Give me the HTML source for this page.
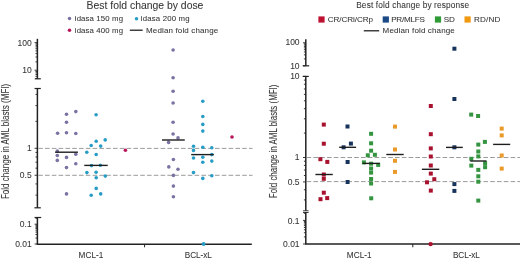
<!DOCTYPE html>
<html><head><meta charset="utf-8"><style>
html,body{margin:0;padding:0;background:#fff;width:520px;height:260px;overflow:hidden}
svg{display:block;will-change:transform}
text{font-family:"Liberation Sans",sans-serif;stroke:#333;stroke-width:0.06px;paint-order:stroke}
</style></head><body>
<svg width="520" height="260" viewBox="0 0 520 260">
<rect width="520" height="260" fill="#fff"/>
<text x="86.6" y="8.7" font-size="10.4" text-anchor="start" fill="#333" textLength="116.8" lengthAdjust="spacing" >Best fold change by dose</text>
<circle cx="69.5" cy="18.4" r="1.75" fill="#7873a2"/>
<text x="74.8" y="21.2" font-size="7.8" text-anchor="start" fill="#333" textLength="48.2" lengthAdjust="spacing" >idasa 150 mg</text>
<circle cx="69.5" cy="30.2" r="1.75" fill="#b8155a"/>
<text x="74.8" y="32.7" font-size="7.8" text-anchor="start" fill="#333" textLength="48.2" lengthAdjust="spacing" >idasa 400 mg</text>
<circle cx="136.5" cy="18.7" r="1.75" fill="#279dc6"/>
<text x="140.8" y="21.2" font-size="7.8" text-anchor="start" fill="#333" textLength="48.8" lengthAdjust="spacing" >idasa 200 mg</text>
<line x1="129.8" y1="30.2" x2="142.7" y2="30.2" stroke="#111" stroke-width="1.2" />
<text x="146" y="32.7" font-size="8.0" text-anchor="start" fill="#333" textLength="72.2" lengthAdjust="spacing" >Median fold change</text>
<text x="0" y="0" font-size="10.6" fill="#333" text-anchor="middle" textLength="115.3" lengthAdjust="spacingAndGlyphs" transform="translate(9.4,141.4) rotate(-90)">Fold change in AML blasts (MFI)</text>
<line x1="37.4" y1="38.8" x2="37.4" y2="78.8" stroke="#222" stroke-width="1.5" />
<line x1="34.8" y1="78.8" x2="40.8" y2="78.8" stroke="#222" stroke-width="1.2" />
<line x1="37.4" y1="88.5" x2="37.4" y2="207.8" stroke="#222" stroke-width="1.5" />
<line x1="34.6" y1="88.5" x2="40.8" y2="88.5" stroke="#222" stroke-width="1.2" />
<line x1="34.4" y1="207.8" x2="40.8" y2="207.8" stroke="#222" stroke-width="1.2" />
<line x1="37.4" y1="217.5" x2="37.4" y2="244.2" stroke="#222" stroke-width="1.5" />
<line x1="34.6" y1="217.5" x2="41.2" y2="217.5" stroke="#222" stroke-width="1.2" />
<line x1="36.65" y1="244.2" x2="251.8" y2="244.2" stroke="#222" stroke-width="1.5" />
<line x1="144.6" y1="244.2" x2="144.6" y2="247.3" stroke="#222" stroke-width="1" />
<line x1="34.6" y1="42.6" x2="37.4" y2="42.6" stroke="#222" stroke-width="0.9" />
<line x1="35.5" y1="43.86" x2="37.4" y2="43.86" stroke="#222" stroke-width="0.9" />
<line x1="35.5" y1="45.27" x2="37.4" y2="45.27" stroke="#222" stroke-width="0.9" />
<line x1="35.5" y1="46.88" x2="37.4" y2="46.88" stroke="#222" stroke-width="0.9" />
<line x1="35.5" y1="48.72" x2="37.4" y2="48.72" stroke="#222" stroke-width="0.9" />
<line x1="35.5" y1="50.91" x2="37.4" y2="50.91" stroke="#222" stroke-width="0.9" />
<line x1="35.5" y1="53.58" x2="37.4" y2="53.58" stroke="#222" stroke-width="0.9" />
<line x1="35.5" y1="57.03" x2="37.4" y2="57.03" stroke="#222" stroke-width="0.9" />
<line x1="35.5" y1="61.89" x2="37.4" y2="61.89" stroke="#222" stroke-width="0.9" />
<line x1="34.6" y1="70.2" x2="37.4" y2="70.2" stroke="#222" stroke-width="0.9" />
<line x1="35.5" y1="71.46" x2="37.4" y2="71.46" stroke="#222" stroke-width="0.9" />
<line x1="35.5" y1="72.87" x2="37.4" y2="72.87" stroke="#222" stroke-width="0.9" />
<line x1="35.5" y1="74.48" x2="37.4" y2="74.48" stroke="#222" stroke-width="0.9" />
<line x1="35.5" y1="76.32" x2="37.4" y2="76.32" stroke="#222" stroke-width="0.9" />
<line x1="35.5" y1="78.51" x2="37.4" y2="78.51" stroke="#222" stroke-width="0.9" />
<line x1="35.5" y1="94.42" x2="37.4" y2="94.42" stroke="#222" stroke-width="0.9" />
<line x1="35.5" y1="105.6" x2="37.4" y2="105.6" stroke="#222" stroke-width="0.9" />
<line x1="35.5" y1="121.36" x2="37.4" y2="121.36" stroke="#222" stroke-width="0.9" />
<line x1="34.6" y1="148.3" x2="37.4" y2="148.3" stroke="#222" stroke-width="0.9" />
<line x1="35.5" y1="152.4" x2="37.4" y2="152.4" stroke="#222" stroke-width="0.9" />
<line x1="35.5" y1="156.97" x2="37.4" y2="156.97" stroke="#222" stroke-width="0.9" />
<line x1="35.5" y1="162.16" x2="37.4" y2="162.16" stroke="#222" stroke-width="0.9" />
<line x1="35.5" y1="168.16" x2="37.4" y2="168.16" stroke="#222" stroke-width="0.9" />
<line x1="34.6" y1="175.24" x2="37.4" y2="175.24" stroke="#222" stroke-width="0.9" />
<line x1="35.5" y1="183.92" x2="37.4" y2="183.92" stroke="#222" stroke-width="0.9" />
<line x1="35.5" y1="195.1" x2="37.4" y2="195.1" stroke="#222" stroke-width="0.9" />
<line x1="35.5" y1="218.24" x2="37.4" y2="218.24" stroke="#222" stroke-width="0.9" />
<line x1="34.6" y1="224.2" x2="37.4" y2="224.2" stroke="#222" stroke-width="0.9" />
<line x1="35.5" y1="225.11" x2="37.4" y2="225.11" stroke="#222" stroke-width="0.9" />
<line x1="35.5" y1="226.12" x2="37.4" y2="226.12" stroke="#222" stroke-width="0.9" />
<line x1="35.5" y1="227.27" x2="37.4" y2="227.27" stroke="#222" stroke-width="0.9" />
<line x1="35.5" y1="228.59" x2="37.4" y2="228.59" stroke="#222" stroke-width="0.9" />
<line x1="35.5" y1="230.16" x2="37.4" y2="230.16" stroke="#222" stroke-width="0.9" />
<line x1="35.5" y1="232.08" x2="37.4" y2="232.08" stroke="#222" stroke-width="0.9" />
<line x1="35.5" y1="234.55" x2="37.4" y2="234.55" stroke="#222" stroke-width="0.9" />
<line x1="35.5" y1="238.04" x2="37.4" y2="238.04" stroke="#222" stroke-width="0.9" />
<line x1="34.6" y1="244.0" x2="37.4" y2="244.0" stroke="#222" stroke-width="0.9" />
<text x="31.7" y="45.6" font-size="8.5" text-anchor="end" fill="#333" >100</text>
<text x="31.7" y="72.9" font-size="8.5" text-anchor="end" fill="#333" >10</text>
<text x="31.7" y="151.3" font-size="8.5" text-anchor="end" fill="#333" >1</text>
<text x="31.7" y="178.2" font-size="8.5" text-anchor="end" fill="#333" >0.5</text>
<text x="31.7" y="227.2" font-size="8.5" text-anchor="end" fill="#333" >0.1</text>
<text x="31.7" y="247.0" font-size="8.5" text-anchor="end" fill="#333" >0.01</text>
<line x1="38.199999999999996" y1="148.4" x2="252.5" y2="148.4" stroke="#969696" stroke-width="0.95" stroke-dasharray="4.6 2.2"/>
<line x1="38.199999999999996" y1="175.3" x2="252.5" y2="175.3" stroke="#969696" stroke-width="0.95" stroke-dasharray="4.6 2.2"/>
<text x="91" y="257.8" font-size="8.2" text-anchor="middle" fill="#333" textLength="24.8" lengthAdjust="spacing" >MCL-1</text>
<text x="198.3" y="257.8" font-size="8.2" text-anchor="middle" fill="#333" textLength="27" lengthAdjust="spacing" >BCL-xL</text>
<circle cx="66.5" cy="114.2" r="1.8" fill="#7873a2"/>
<circle cx="75.8" cy="111.6" r="1.8" fill="#7873a2"/>
<circle cx="66.5" cy="122.2" r="1.8" fill="#7873a2"/>
<circle cx="57.6" cy="133.2" r="1.8" fill="#7873a2"/>
<circle cx="66.5" cy="132.8" r="1.8" fill="#7873a2"/>
<circle cx="75.8" cy="133.5" r="1.8" fill="#7873a2"/>
<circle cx="57.3" cy="151.1" r="1.8" fill="#7873a2"/>
<circle cx="57.3" cy="155.5" r="1.8" fill="#7873a2"/>
<circle cx="57.3" cy="160.4" r="1.8" fill="#7873a2"/>
<circle cx="66.5" cy="157.4" r="1.8" fill="#7873a2"/>
<circle cx="75.8" cy="154.2" r="1.8" fill="#7873a2"/>
<circle cx="75.8" cy="163.8" r="1.8" fill="#7873a2"/>
<circle cx="66.5" cy="167.6" r="1.8" fill="#7873a2"/>
<circle cx="66.5" cy="193.9" r="1.8" fill="#7873a2"/>
<circle cx="173.1" cy="50" r="1.8" fill="#7873a2"/>
<circle cx="173.1" cy="77.8" r="1.8" fill="#7873a2"/>
<circle cx="173.1" cy="91.2" r="1.8" fill="#7873a2"/>
<circle cx="173.1" cy="103" r="1.8" fill="#7873a2"/>
<circle cx="173.1" cy="122.3" r="1.8" fill="#7873a2"/>
<circle cx="173.1" cy="134" r="1.8" fill="#7873a2"/>
<circle cx="178" cy="137.9" r="1.8" fill="#7873a2"/>
<circle cx="168.6" cy="142.4" r="1.8" fill="#7873a2"/>
<circle cx="173.4" cy="159.5" r="1.8" fill="#7873a2"/>
<circle cx="168.8" cy="166.9" r="1.8" fill="#7873a2"/>
<circle cx="178" cy="169.2" r="1.8" fill="#7873a2"/>
<circle cx="173.4" cy="175.4" r="1.8" fill="#7873a2"/>
<circle cx="173.4" cy="186.1" r="1.8" fill="#7873a2"/>
<circle cx="173.4" cy="196.8" r="1.8" fill="#7873a2"/>
<circle cx="96.1" cy="114.7" r="1.8" fill="#279dc6"/>
<circle cx="96.2" cy="141.2" r="1.8" fill="#279dc6"/>
<circle cx="105.2" cy="139.9" r="1.8" fill="#279dc6"/>
<circle cx="91.2" cy="145.5" r="1.8" fill="#279dc6"/>
<circle cx="100.7" cy="146.1" r="1.8" fill="#279dc6"/>
<circle cx="86.8" cy="152.2" r="1.8" fill="#279dc6"/>
<circle cx="96.2" cy="154.5" r="1.8" fill="#279dc6"/>
<circle cx="91.5" cy="165.6" r="1.8" fill="#279dc6"/>
<circle cx="100.4" cy="165.2" r="1.8" fill="#279dc6"/>
<circle cx="86.9" cy="172.6" r="1.8" fill="#279dc6"/>
<circle cx="96.1" cy="172.2" r="1.8" fill="#279dc6"/>
<circle cx="96.2" cy="177.8" r="1.8" fill="#279dc6"/>
<circle cx="105.3" cy="176.1" r="1.8" fill="#279dc6"/>
<circle cx="96.2" cy="188.4" r="1.8" fill="#279dc6"/>
<circle cx="91.2" cy="195.3" r="1.8" fill="#279dc6"/>
<circle cx="100.7" cy="193.9" r="1.8" fill="#279dc6"/>
<circle cx="202.8" cy="101.2" r="1.8" fill="#279dc6"/>
<circle cx="202.8" cy="116.5" r="1.8" fill="#279dc6"/>
<circle cx="202.8" cy="124.4" r="1.8" fill="#279dc6"/>
<circle cx="202.8" cy="131.1" r="1.8" fill="#279dc6"/>
<circle cx="193.5" cy="146.2" r="1.8" fill="#279dc6"/>
<circle cx="193.5" cy="150.4" r="1.8" fill="#279dc6"/>
<circle cx="202.8" cy="147.3" r="1.8" fill="#279dc6"/>
<circle cx="211.8" cy="147.7" r="1.8" fill="#279dc6"/>
<circle cx="211.8" cy="154.6" r="1.8" fill="#279dc6"/>
<circle cx="193.5" cy="158" r="1.8" fill="#279dc6"/>
<circle cx="202.8" cy="157.3" r="1.8" fill="#279dc6"/>
<circle cx="202.8" cy="162.3" r="1.8" fill="#279dc6"/>
<circle cx="211.8" cy="161.1" r="1.8" fill="#279dc6"/>
<circle cx="193.5" cy="172.6" r="1.8" fill="#279dc6"/>
<circle cx="211.8" cy="175.8" r="1.8" fill="#279dc6"/>
<circle cx="202.8" cy="178.4" r="1.8" fill="#279dc6"/>
<circle cx="125.4" cy="150.3" r="1.8" fill="#b8155a"/>
<circle cx="232" cy="137" r="1.8" fill="#b8155a"/>
<circle cx="203.6" cy="244.1" r="2.0" fill="#279dc6"/>
<line x1="55.1" y1="152.2" x2="77.9" y2="152.2" stroke="#1e1e1e" stroke-width="1.4" />
<line x1="84.3" y1="165.4" x2="107.7" y2="165.4" stroke="#1e1e1e" stroke-width="1.4" />
<line x1="162" y1="140" x2="184.8" y2="140" stroke="#1e1e1e" stroke-width="1.4" />
<line x1="191.2" y1="154.6" x2="213.8" y2="154.6" stroke="#1e1e1e" stroke-width="1.4" />
<text x="356.2" y="7.7" font-size="8.3" text-anchor="start" fill="#333" textLength="113" lengthAdjust="spacing" >Best fold change by response</text>
<rect x="318.40" y="16.40" width="6.2" height="6.2" fill="#be1131"/>
<text x="327.8" y="21.6" font-size="8.1" text-anchor="start" fill="#333" textLength="45.2" lengthAdjust="spacing" >CR/CRi/CRp</text>
<rect x="382.70" y="16.40" width="6.2" height="6.2" fill="#1c4a86"/>
<text x="391.2" y="21.6" font-size="8.1" text-anchor="start" fill="#333" textLength="33.7" lengthAdjust="spacing" >PR/MLFS</text>
<rect x="434.90" y="16.40" width="6.2" height="6.2" fill="#2e9b37"/>
<text x="443.7" y="21.6" font-size="8.1" text-anchor="start" fill="#333" textLength="11.2" lengthAdjust="spacing" >SD</text>
<rect x="464.50" y="16.40" width="6.2" height="6.2" fill="#f0980f"/>
<text x="474.0" y="21.6" font-size="8.1" text-anchor="start" fill="#333" textLength="26.4" lengthAdjust="spacing" >RD/ND</text>
<line x1="363.8" y1="30.8" x2="379.2" y2="30.8" stroke="#111" stroke-width="1.2" />
<text x="382.6" y="33.4" font-size="8.0" text-anchor="start" fill="#333" textLength="72.2" lengthAdjust="spacing" >Median fold change</text>
<text x="0" y="0" font-size="10.6" fill="#333" text-anchor="middle" textLength="113.6" lengthAdjust="spacingAndGlyphs" transform="translate(276.8,141.4) rotate(-90)">Fold change in AML blasts (MFI)</text>
<line x1="305.8" y1="39.3" x2="305.8" y2="65.8" stroke="#222" stroke-width="1.5" />
<line x1="302.7" y1="65.8" x2="309.2" y2="65.8" stroke="#222" stroke-width="1.2" />
<line x1="305.8" y1="76.4" x2="305.8" y2="210.8" stroke="#222" stroke-width="1.5" />
<line x1="302.7" y1="76.4" x2="308.8" y2="76.4" stroke="#222" stroke-width="1.2" />
<line x1="303.0" y1="210.8" x2="308.6" y2="210.8" stroke="#222" stroke-width="0.9" />
<line x1="305.8" y1="212.5" x2="305.8" y2="244.0" stroke="#222" stroke-width="1.5" />
<line x1="303.0" y1="212.5" x2="308.6" y2="212.5" stroke="#222" stroke-width="0.9" />
<line x1="305.05" y1="244.0" x2="520" y2="244.0" stroke="#222" stroke-width="1.5" />
<line x1="412.8" y1="244" x2="412.8" y2="247.3" stroke="#222" stroke-width="1" />
<line x1="303.0" y1="42.8" x2="305.8" y2="42.8" stroke="#222" stroke-width="0.9" />
<line x1="303.90000000000003" y1="43.85" x2="305.8" y2="43.85" stroke="#222" stroke-width="0.9" />
<line x1="303.90000000000003" y1="45.03" x2="305.8" y2="45.03" stroke="#222" stroke-width="0.9" />
<line x1="303.90000000000003" y1="46.36" x2="305.8" y2="46.36" stroke="#222" stroke-width="0.9" />
<line x1="303.90000000000003" y1="47.9" x2="305.8" y2="47.9" stroke="#222" stroke-width="0.9" />
<line x1="303.90000000000003" y1="49.72" x2="305.8" y2="49.72" stroke="#222" stroke-width="0.9" />
<line x1="303.90000000000003" y1="51.95" x2="305.8" y2="51.95" stroke="#222" stroke-width="0.9" />
<line x1="303.90000000000003" y1="54.83" x2="305.8" y2="54.83" stroke="#222" stroke-width="0.9" />
<line x1="303.90000000000003" y1="58.88" x2="305.8" y2="58.88" stroke="#222" stroke-width="0.9" />
<line x1="303.0" y1="65.8" x2="305.8" y2="65.8" stroke="#222" stroke-width="0.9" />
<line x1="303.0" y1="76.4" x2="305.8" y2="76.4" stroke="#222" stroke-width="0.9" />
<line x1="303.90000000000003" y1="80.11" x2="305.8" y2="80.11" stroke="#222" stroke-width="0.9" />
<line x1="303.90000000000003" y1="84.26" x2="305.8" y2="84.26" stroke="#222" stroke-width="0.9" />
<line x1="303.90000000000003" y1="88.96" x2="305.8" y2="88.96" stroke="#222" stroke-width="0.9" />
<line x1="303.90000000000003" y1="94.39" x2="305.8" y2="94.39" stroke="#222" stroke-width="0.9" />
<line x1="303.90000000000003" y1="100.81" x2="305.8" y2="100.81" stroke="#222" stroke-width="0.9" />
<line x1="303.90000000000003" y1="108.67" x2="305.8" y2="108.67" stroke="#222" stroke-width="0.9" />
<line x1="303.90000000000003" y1="118.81" x2="305.8" y2="118.81" stroke="#222" stroke-width="0.9" />
<line x1="303.90000000000003" y1="133.09" x2="305.8" y2="133.09" stroke="#222" stroke-width="0.9" />
<line x1="303.0" y1="157.5" x2="305.8" y2="157.5" stroke="#222" stroke-width="0.9" />
<line x1="303.90000000000003" y1="161.21" x2="305.8" y2="161.21" stroke="#222" stroke-width="0.9" />
<line x1="303.90000000000003" y1="165.36" x2="305.8" y2="165.36" stroke="#222" stroke-width="0.9" />
<line x1="303.90000000000003" y1="170.06" x2="305.8" y2="170.06" stroke="#222" stroke-width="0.9" />
<line x1="303.90000000000003" y1="175.49" x2="305.8" y2="175.49" stroke="#222" stroke-width="0.9" />
<line x1="303.0" y1="181.91" x2="305.8" y2="181.91" stroke="#222" stroke-width="0.9" />
<line x1="303.90000000000003" y1="189.77" x2="305.8" y2="189.77" stroke="#222" stroke-width="0.9" />
<line x1="303.90000000000003" y1="199.91" x2="305.8" y2="199.91" stroke="#222" stroke-width="0.9" />
<line x1="303.90000000000003" y1="213.3" x2="305.8" y2="213.3" stroke="#222" stroke-width="0.9" />
<line x1="303.0" y1="220.4" x2="305.8" y2="220.4" stroke="#222" stroke-width="0.9" />
<line x1="303.90000000000003" y1="221.48" x2="305.8" y2="221.48" stroke="#222" stroke-width="0.9" />
<line x1="303.90000000000003" y1="222.69" x2="305.8" y2="222.69" stroke="#222" stroke-width="0.9" />
<line x1="303.90000000000003" y1="224.06" x2="305.8" y2="224.06" stroke="#222" stroke-width="0.9" />
<line x1="303.90000000000003" y1="225.64" x2="305.8" y2="225.64" stroke="#222" stroke-width="0.9" />
<line x1="303.90000000000003" y1="227.5" x2="305.8" y2="227.5" stroke="#222" stroke-width="0.9" />
<line x1="303.90000000000003" y1="229.79" x2="305.8" y2="229.79" stroke="#222" stroke-width="0.9" />
<line x1="303.90000000000003" y1="232.74" x2="305.8" y2="232.74" stroke="#222" stroke-width="0.9" />
<line x1="303.90000000000003" y1="236.9" x2="305.8" y2="236.9" stroke="#222" stroke-width="0.9" />
<line x1="303.0" y1="244.0" x2="305.8" y2="244.0" stroke="#222" stroke-width="0.9" />
<text x="299.6" y="45.3" font-size="8.5" text-anchor="end" fill="#333" >100</text>
<text x="299.6" y="68.5" font-size="8.5" text-anchor="end" fill="#333" >10</text>
<text x="299.6" y="79.2" font-size="8.5" text-anchor="end" fill="#333" >10</text>
<text x="299.6" y="160.2" font-size="8.5" text-anchor="end" fill="#333" >1</text>
<text x="299.6" y="184.5" font-size="8.5" text-anchor="end" fill="#333" >0.5</text>
<text x="299.6" y="224.0" font-size="8.5" text-anchor="end" fill="#333" >0.1</text>
<text x="299.6" y="246.7" font-size="8.5" text-anchor="end" fill="#333" >0.01</text>
<line x1="306.6" y1="157.5" x2="520" y2="157.5" stroke="#969696" stroke-width="0.95" stroke-dasharray="4.6 2.2"/>
<line x1="306.6" y1="181.6" x2="520" y2="181.6" stroke="#969696" stroke-width="0.95" stroke-dasharray="4.6 2.2"/>
<text x="359.2" y="257.8" font-size="8.2" text-anchor="middle" fill="#333" textLength="24.8" lengthAdjust="spacing" >MCL-1</text>
<text x="466.4" y="257.8" font-size="8.2" text-anchor="middle" fill="#333" textLength="27" lengthAdjust="spacing" >BCL-xL</text>
<circle cx="430.6" cy="244.1" r="2.2" fill="#a8122f"/>
<rect x="321.80" y="122.60" width="4.0" height="4.0" fill="#a8122f"/>
<rect x="321.80" y="141.70" width="4.0" height="4.0" fill="#a8122f"/>
<rect x="318.40" y="157.20" width="4.0" height="4.0" fill="#a8122f"/>
<rect x="325.30" y="159.90" width="4.0" height="4.0" fill="#a8122f"/>
<rect x="321.80" y="172.50" width="4.0" height="4.0" fill="#a8122f"/>
<rect x="321.80" y="176.80" width="4.0" height="4.0" fill="#a8122f"/>
<rect x="321.80" y="190.70" width="4.0" height="4.0" fill="#a8122f"/>
<rect x="318.50" y="197.20" width="4.0" height="4.0" fill="#a8122f"/>
<rect x="325.20" y="196.10" width="4.0" height="4.0" fill="#a8122f"/>
<rect x="428.80" y="104.00" width="4.0" height="4.0" fill="#a8122f"/>
<rect x="428.80" y="132.20" width="4.0" height="4.0" fill="#a8122f"/>
<rect x="428.80" y="146.40" width="4.0" height="4.0" fill="#a8122f"/>
<rect x="428.80" y="154.50" width="4.0" height="4.0" fill="#a8122f"/>
<rect x="428.80" y="163.50" width="4.0" height="4.0" fill="#a8122f"/>
<rect x="428.80" y="171.60" width="4.0" height="4.0" fill="#a8122f"/>
<rect x="432.30" y="177.20" width="4.0" height="4.0" fill="#a8122f"/>
<rect x="425.00" y="180.30" width="4.0" height="4.0" fill="#a8122f"/>
<rect x="428.80" y="188.60" width="4.0" height="4.0" fill="#a8122f"/>
<rect x="345.50" y="124.50" width="4.0" height="4.0" fill="#17335c"/>
<rect x="348.90" y="141.60" width="4.0" height="4.0" fill="#17335c"/>
<rect x="341.60" y="145.30" width="4.0" height="4.0" fill="#17335c"/>
<rect x="345.60" y="160.00" width="4.0" height="4.0" fill="#17335c"/>
<rect x="345.60" y="180.00" width="4.0" height="4.0" fill="#17335c"/>
<rect x="452.40" y="46.70" width="4.0" height="4.0" fill="#17335c"/>
<rect x="452.40" y="97.00" width="4.0" height="4.0" fill="#17335c"/>
<rect x="452.40" y="145.30" width="4.0" height="4.0" fill="#17335c"/>
<rect x="452.40" y="182.10" width="4.0" height="4.0" fill="#17335c"/>
<rect x="452.40" y="188.90" width="4.0" height="4.0" fill="#17335c"/>
<rect x="369.10" y="131.80" width="4.0" height="4.0" fill="#349440"/>
<rect x="369.10" y="141.30" width="4.0" height="4.0" fill="#349440"/>
<rect x="369.10" y="148.70" width="4.0" height="4.0" fill="#349440"/>
<rect x="365.80" y="153.30" width="4.0" height="4.0" fill="#349440"/>
<rect x="372.90" y="152.80" width="4.0" height="4.0" fill="#349440"/>
<rect x="361.90" y="160.40" width="4.0" height="4.0" fill="#349440"/>
<rect x="369.10" y="161.70" width="4.0" height="4.0" fill="#349440"/>
<rect x="376.20" y="162.90" width="4.0" height="4.0" fill="#349440"/>
<rect x="369.10" y="166.50" width="4.0" height="4.0" fill="#349440"/>
<rect x="369.10" y="170.60" width="4.0" height="4.0" fill="#349440"/>
<rect x="369.10" y="177.00" width="4.0" height="4.0" fill="#349440"/>
<rect x="369.10" y="181.50" width="4.0" height="4.0" fill="#349440"/>
<rect x="369.20" y="196.30" width="4.0" height="4.0" fill="#349440"/>
<rect x="469.20" y="112.60" width="4.0" height="4.0" fill="#349440"/>
<rect x="476.10" y="114.00" width="4.0" height="4.0" fill="#349440"/>
<rect x="482.90" y="139.90" width="4.0" height="4.0" fill="#349440"/>
<rect x="476.30" y="142.60" width="4.0" height="4.0" fill="#349440"/>
<rect x="476.30" y="149.50" width="4.0" height="4.0" fill="#349440"/>
<rect x="476.30" y="154.40" width="4.0" height="4.0" fill="#349440"/>
<rect x="469.30" y="156.80" width="4.0" height="4.0" fill="#349440"/>
<rect x="469.30" y="163.60" width="4.0" height="4.0" fill="#349440"/>
<rect x="483.10" y="161.20" width="4.0" height="4.0" fill="#349440"/>
<rect x="483.10" y="165.20" width="4.0" height="4.0" fill="#349440"/>
<rect x="476.30" y="167.90" width="4.0" height="4.0" fill="#349440"/>
<rect x="476.30" y="174.30" width="4.0" height="4.0" fill="#349440"/>
<rect x="476.30" y="179.70" width="4.0" height="4.0" fill="#349440"/>
<rect x="476.30" y="198.60" width="4.0" height="4.0" fill="#349440"/>
<rect x="393.00" y="124.60" width="4.0" height="4.0" fill="#e99a28"/>
<rect x="393.00" y="147.50" width="4.0" height="4.0" fill="#e99a28"/>
<rect x="393.00" y="158.80" width="4.0" height="4.0" fill="#e99a28"/>
<rect x="393.00" y="169.90" width="4.0" height="4.0" fill="#e99a28"/>
<rect x="499.70" y="126.60" width="4.0" height="4.0" fill="#e99a28"/>
<rect x="499.70" y="133.40" width="4.0" height="4.0" fill="#e99a28"/>
<rect x="499.70" y="153.50" width="4.0" height="4.0" fill="#e99a28"/>
<rect x="499.70" y="166.60" width="4.0" height="4.0" fill="#e99a28"/>
<line x1="315.4" y1="174.5" x2="332.8" y2="174.5" stroke="#1e1e1e" stroke-width="1.4" />
<line x1="339.2" y1="147.3" x2="356.1" y2="147.3" stroke="#1e1e1e" stroke-width="1.4" />
<line x1="362.6" y1="163.4" x2="379.8" y2="163.4" stroke="#1e1e1e" stroke-width="1.4" />
<line x1="386.3" y1="154.5" x2="403.7" y2="154.5" stroke="#1e1e1e" stroke-width="1.4" />
<line x1="421.9" y1="169.3" x2="439.3" y2="169.3" stroke="#1e1e1e" stroke-width="1.4" />
<line x1="446" y1="147.4" x2="462.8" y2="147.4" stroke="#1e1e1e" stroke-width="1.4" />
<line x1="470.2" y1="161" x2="486.5" y2="161" stroke="#1e1e1e" stroke-width="1.4" />
<line x1="493.1" y1="144.4" x2="510.2" y2="144.4" stroke="#1e1e1e" stroke-width="1.4" />
</svg>
</body></html>
